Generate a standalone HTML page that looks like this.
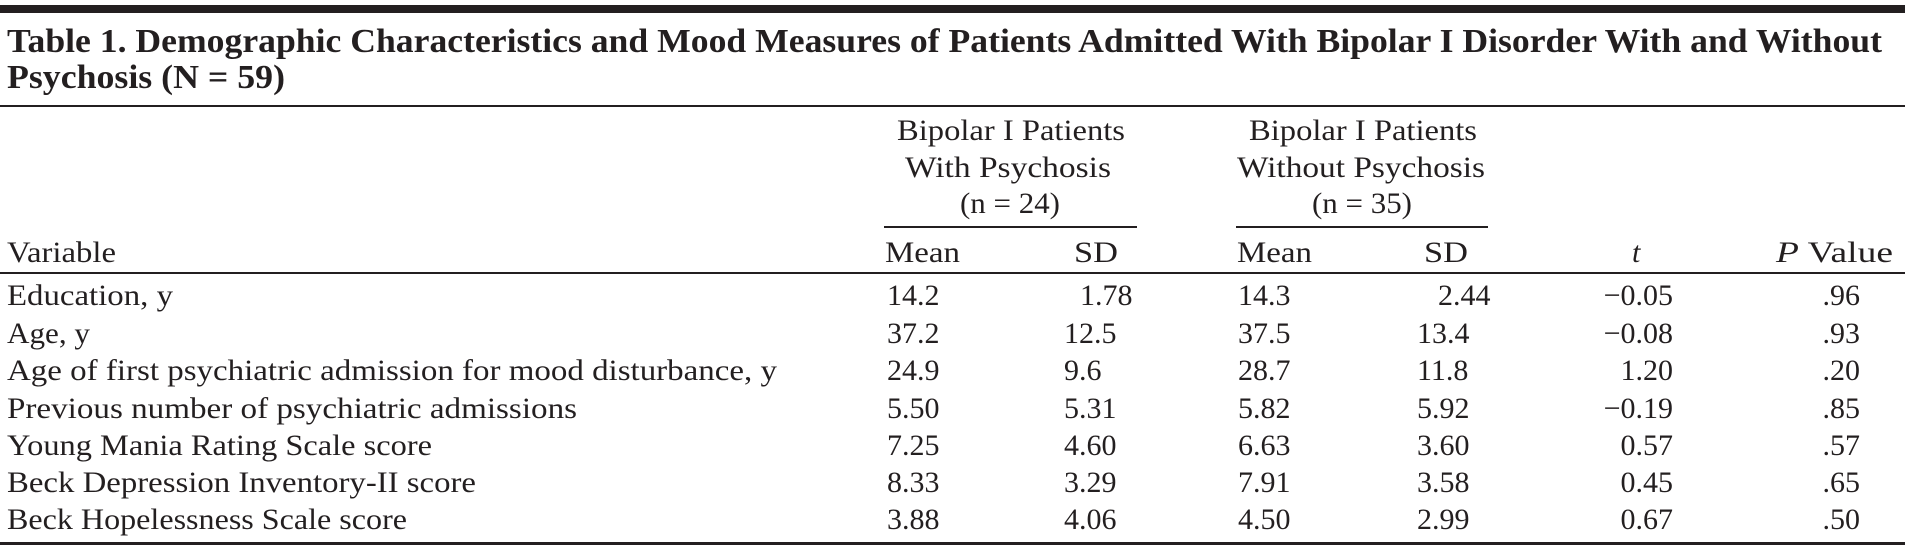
<!DOCTYPE html>
<html><head><meta charset="utf-8"><style>
html,body{margin:0;padding:0;background:#fff;}
svg{display:block;}
text{font-family:"Liberation Serif",serif;fill:#231f20;font-size:30px;}
.b{font-weight:bold;font-size:34px;}
.e{text-anchor:end;}
</style></head><body>
<svg width="1905" height="552" viewBox="0 0 1905 552" xmlns="http://www.w3.org/2000/svg">
<rect x="0" y="5" width="1905" height="8" fill="#231f20"/>
<text class="b" x="7" y="52" textLength="1875" lengthAdjust="spacingAndGlyphs">Table 1. Demographic Characteristics and Mood Measures of Patients Admitted With Bipolar I Disorder With and Without</text>
<text class="b" x="7" y="88" textLength="278" lengthAdjust="spacingAndGlyphs">Psychosis (N = 59)</text>
<rect x="0" y="105" width="1905" height="2" fill="#231f20"/>

<text x="897" y="140" textLength="228" lengthAdjust="spacingAndGlyphs">Bipolar I Patients</text>
<text x="905" y="177" textLength="206" lengthAdjust="spacingAndGlyphs">With Psychosis</text>
<text x="960" y="213" textLength="100" lengthAdjust="spacingAndGlyphs">(n = 24)</text>
<text x="1249" y="140" textLength="228" lengthAdjust="spacingAndGlyphs">Bipolar I Patients</text>
<text x="1237" y="177" textLength="248" lengthAdjust="spacingAndGlyphs">Without Psychosis</text>
<text x="1312" y="213" textLength="100" lengthAdjust="spacingAndGlyphs">(n = 35)</text>
<rect x="884" y="226" width="253" height="2" fill="#231f20"/>
<rect x="1236" y="226" width="252" height="2" fill="#231f20"/>

<text x="7" y="262" textLength="109" lengthAdjust="spacingAndGlyphs">Variable</text>
<text x="885" y="262" textLength="75" lengthAdjust="spacingAndGlyphs">Mean</text>
<text x="1074" y="262" textLength="44" lengthAdjust="spacingAndGlyphs">SD</text>
<text x="1237" y="262" textLength="75" lengthAdjust="spacingAndGlyphs">Mean</text>
<text x="1424" y="262" textLength="44" lengthAdjust="spacingAndGlyphs">SD</text>
<text x="1632" y="262" font-style="italic">t</text>
<text x="1776" y="262" textLength="117" lengthAdjust="spacingAndGlyphs"><tspan font-style="italic">P</tspan> Value</text>
<rect x="0" y="272" width="1905" height="2" fill="#231f20"/>

<g>
<text x="7" y="305" textLength="166" lengthAdjust="spacingAndGlyphs">Education, y</text>
<text x="7" y="343" textLength="83" lengthAdjust="spacingAndGlyphs">Age, y</text>
<text x="7" y="380" textLength="770" lengthAdjust="spacingAndGlyphs">Age of first psychiatric admission for mood disturbance, y</text>
<text x="7" y="418" textLength="570" lengthAdjust="spacingAndGlyphs">Previous number of psychiatric admissions</text>
<text x="7" y="455" textLength="425" lengthAdjust="spacingAndGlyphs">Young Mania Rating Scale score</text>
<text x="7" y="492" textLength="469" lengthAdjust="spacingAndGlyphs">Beck Depression Inventory-II score</text>
<text x="7" y="529" textLength="400" lengthAdjust="spacingAndGlyphs">Beck Hopelessness Scale score</text>
</g>
<g>
<text x="887" y="305">14.2</text><text x="1080" y="305">1.78</text><text x="1238" y="305">14.3</text><text x="1438" y="305">2.44</text><text class="e" x="1673" y="305">−0.05</text><text class="e" x="1860" y="305">.96</text>
<text x="887" y="343">37.2</text><text x="1064" y="343">12.5</text><text x="1238" y="343">37.5</text><text x="1417" y="343">13.4</text><text class="e" x="1673" y="343">−0.08</text><text class="e" x="1860" y="343">.93</text>
<text x="887" y="380">24.9</text><text x="1064" y="380">9.6</text><text x="1238" y="380">28.7</text><text x="1417" y="380">11.8</text><text class="e" x="1673" y="380">1.20</text><text class="e" x="1860" y="380">.20</text>
<text x="887" y="418">5.50</text><text x="1064" y="418">5.31</text><text x="1238" y="418">5.82</text><text x="1417" y="418">5.92</text><text class="e" x="1673" y="418">−0.19</text><text class="e" x="1860" y="418">.85</text>
<text x="887" y="455">7.25</text><text x="1064" y="455">4.60</text><text x="1238" y="455">6.63</text><text x="1417" y="455">3.60</text><text class="e" x="1673" y="455">0.57</text><text class="e" x="1860" y="455">.57</text>
<text x="887" y="492">8.33</text><text x="1064" y="492">3.29</text><text x="1238" y="492">7.91</text><text x="1417" y="492">3.58</text><text class="e" x="1673" y="492">0.45</text><text class="e" x="1860" y="492">.65</text>
<text x="887" y="529">3.88</text><text x="1064" y="529">4.06</text><text x="1238" y="529">4.50</text><text x="1417" y="529">2.99</text><text class="e" x="1673" y="529">0.67</text><text class="e" x="1860" y="529">.50</text>
</g>
<rect x="0" y="542" width="1905" height="3" fill="#231f20"/>
</svg>
</body></html>
